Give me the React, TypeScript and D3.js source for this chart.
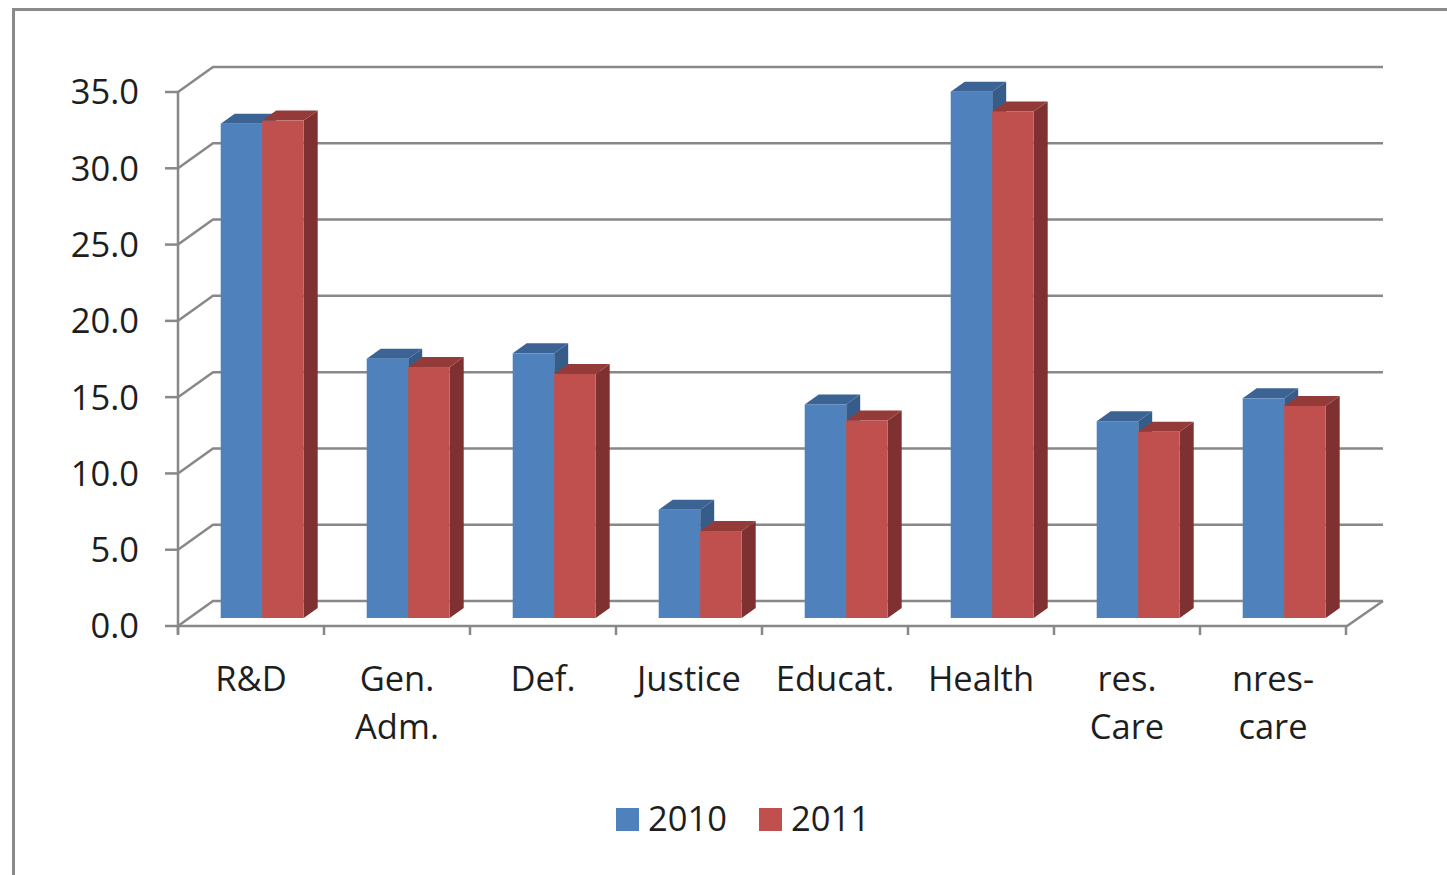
import React from "react";
import * as d3 from "d3";

const categories: string[][] = [
  ["R&D"],
  ["Gen.", "Adm."],
  ["Def."],
  ["Justice"],
  ["Educat."],
  ["Health"],
  ["res.", "Care"],
  ["nres-", "care"],
];
const values2010 = [32.4, 17.0, 17.35, 7.1, 14.0, 34.5, 12.9, 14.4];
const values2011 = [32.6, 16.45, 16.0, 5.7, 12.95, 33.2, 12.2, 13.9];
const seriesNames = ["2010", "2011"];
const yTicks = [0, 5, 10, 15, 20, 25, 30, 35];

const W = 1447;
const H = 875;
const FONT = "'Open Sans', Carlito, Calibri, Lato, sans-serif";
const FS = 34.5;

export default function App() {
  const x0 = 178;
  const x1 = 1346;
  const depthX = 35;
  const depthY = -25;
  const y = d3.scaleLinear().domain([0, 35]).range([626, 92]);
  const x = d3
    .scaleBand<number>()
    .domain(categories.map((_, i) => i))
    .range([x0, x1])
    .paddingInner(0)
    .paddingOuter(0);
  const barD0 = 0.32;
  const barD1 = 0.72;
  const barW = 41.5;
  const inner = d3.scaleBand<number>().domain([0, 1]).range([0, barW * 2]);
  const colors = [
    { front: "#4F81BD", top: "#3B6494", side: "#365C8A" },
    { front: "#C0504D", top: "#943B39", side: "#7E3130" },
  ];
  const grid = "#888888";
  const series = [values2010, values2011];

  const bars: React.ReactNode[] = [];
  categories.forEach((_, i) => {
    const cx = (x(i) as number) + x.bandwidth() / 2 + depthX * barD0;
    const gx = cx - barW;
    series.forEach((vals, s) => {
      const v = vals[i];
      const bx = gx + (inner(s) as number);
      const bw = inner.bandwidth();
      const yb = y(0) + depthY * barD0;
      const yt = y(v) + depthY * barD0;
      const ddx = depthX * (barD1 - barD0);
      const ddy = depthY * (barD1 - barD0);
      const c = colors[s];
      bars.push(
        <g key={`b${i}-${s}`}>
          <polygon
            points={`${bx + bw},${yt} ${bx + bw + ddx},${yt + ddy} ${bx + bw + ddx},${yb + ddy} ${bx + bw},${yb}`}
            fill={c.side}
          />
          <polygon
            points={`${bx},${yt} ${bx + ddx},${yt + ddy} ${bx + bw + ddx},${yt + ddy} ${bx + bw},${yt}`}
            fill={c.top}
          />
          <rect x={bx} y={yt} width={bw} height={yb - yt} fill={c.front} />
        </g>
      );
    });
  });

  return (
    <svg
      width={W}
      height={H}
      style={{ position: "absolute", left: 0, top: 0, background: "#fff" }}
    >
      <rect x={0} y={0} width={W} height={H} fill="#fff" />
      <rect
        x={13.5}
        y={9.5}
        width={W + 20}
        height={H + 20}
        fill="none"
        stroke="#8A8A8A"
        strokeWidth={3}
      />
      {yTicks.map((t) => (
        <polyline
          key={`g${t}`}
          points={`${x0},${y(t)} ${x0 + depthX},${y(t) + depthY} ${x1 + depthX + 2},${y(t) + depthY}`}
          fill="none"
          stroke={grid}
          strokeWidth={2.5}
        />
      ))}
      <polyline
        points={`${x0},${y(0)} ${x1 + 1},${y(0)} ${x1 + depthX + 2},${y(0) + depthY}`}
        fill="none"
        stroke={grid}
        strokeWidth={2.5}
      />
      <line x1={x0} x2={x0} y1={y(35)} y2={y(0) + 8} stroke={grid} strokeWidth={2.5} />
      {yTicks.map((t) => (
        <line key={`yt${t}`} x1={x0 - 13} x2={x0} y1={y(t)} y2={y(t)} stroke={grid} strokeWidth={2.5} />
      ))}
      {categories.map((_, i) => (
        <line
          key={`xt${i}`}
          x1={x(i) as number}
          x2={x(i) as number}
          y1={y(0)}
          y2={y(0) + 9}
          stroke={grid}
          strokeWidth={2.5}
        />
      ))}
      <line x1={x1} x2={x1} y1={y(0)} y2={y(0) + 9} stroke={grid} strokeWidth={2.5} />
      {bars}
      {yTicks.map((t) => (
        <text
          key={`yl${t}`}
          x={139}
          y={y(t)}
          dy="0.36em"
          textAnchor="end"
          fontFamily={FONT}
          fontSize={FS}
          fill="#1e1e1e"
        >
          {t.toFixed(1)}
        </text>
      ))}
      {categories.map((lines, i) => (
        <text
          key={`cl${i}`}
          x={(x(i) as number) + x.bandwidth() / 2}
          y={691}
          textAnchor="middle"
          fontFamily={FONT}
          fontSize={FS}
          fill="#1e1e1e"
        >
          {lines.map((ln, j) => (
            <tspan key={j} x={(x(i) as number) + x.bandwidth() / 2} dy={j === 0 ? 0 : 48}>
              {ln}
            </tspan>
          ))}
        </text>
      ))}
      {seriesNames.map((n, s) => {
        const lx = s === 0 ? 616 : 759;
        return (
          <g key={`lg${s}`}>
            <rect x={lx} y={808} width={23} height={23} fill={colors[s].front} />
            <text x={lx + 32} y={831} fontFamily={FONT} fontSize={FS} fill="#1e1e1e">
              {n}
            </text>
          </g>
        );
      })}
    </svg>
  );
}
